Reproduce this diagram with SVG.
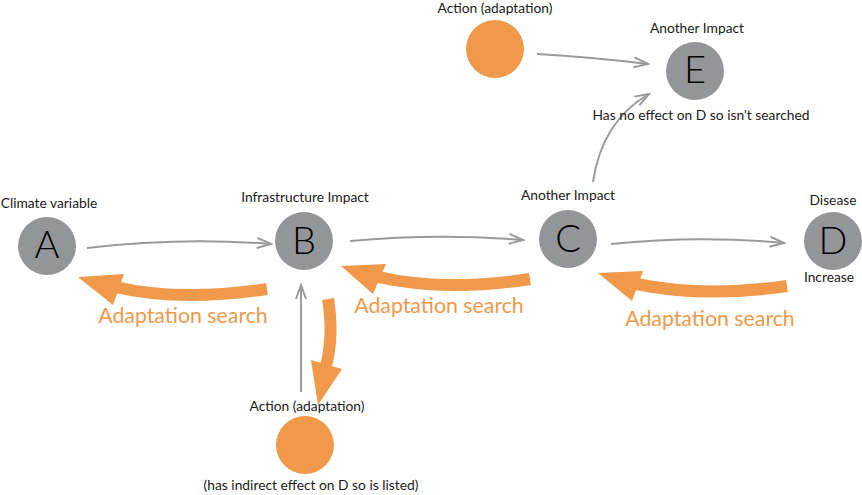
<svg xmlns="http://www.w3.org/2000/svg" width="862" height="495" viewBox="0 0 862 495">
<style>
.bg{fill:#ffffff}
.node{fill:#939598}
.act{fill:#F0994A}
.letter{font-family:Lato,"Liberation Sans",sans-serif;font-size:38px;font-weight:300;fill:#000;text-anchor:middle}
.lbl{font-family:Lato,"Liberation Sans",sans-serif;font-size:13.8px;fill:#1a1a1a;text-anchor:middle}
.srch{font-family:Lato,"Liberation Sans",sans-serif;font-size:21.3px;fill:#F0994A;text-anchor:middle}
.g{fill:none;stroke:#999a9c;stroke-width:2;marker-end:url(#chev)}
.o{fill:none;stroke:#F0994A;stroke-width:12}
.oh{fill:#F0994A}
</style>
<defs>
<marker id="chev" markerUnits="userSpaceOnUse" viewBox="-16 -7 18 14" refX="0" refY="0" markerWidth="18" markerHeight="14" orient="auto">
<path d="M-14,-5 L0,0 L-14,5" fill="none" stroke="#999a9c" stroke-width="2"/>
</marker>
</defs>
<rect class="bg" x="0" y="0" width="862" height="495"/>
<g id="connectors">
<path class="g" d="M87,248 Q180,237 271,244"/>
<path class="g" d="M350,241 Q437,233 523,240"/>
<path class="g" d="M611,244 Q698,235 784,243"/>
<path class="g" d="M537,54 Q590,57 648,64"/>
<path class="g" d="M593,182 Q602,121 649,94"/>
<path class="g" d="M301,392 L301,285"/>
<path class="o" d="M267,289 Q180,302 115,287"/>
<polygon class="oh" points="78,277 124,274 113,305"/>
<path class="o" d="M530,279 Q445,292 378,277"/>
<polygon class="oh" points="341,266 386,264 373,294"/>
<path class="o" d="M787,286 Q705,298 636,284"/>
<polygon class="oh" points="598,273 643,271 632,301"/>
<path class="o" d="M328,299 Q334,335 326,366"/>
<polygon class="oh" points="318,405 311,360 342,369"/>
</g>
<g id="nodeA">
<circle class="node" cx="47" cy="246" r="29"/>
<text class="letter" x="47" y="258">A</text>
<text class="lbl" x="49" y="208">Climate variable</text>
</g>
<g id="nodeB">
<circle class="node" cx="304" cy="241" r="29"/>
<text class="letter" x="304" y="254">B</text>
<text class="lbl" x="305" y="202">Infrastructure Impact</text>
</g>
<g id="nodeC">
<circle class="node" cx="568" cy="239" r="29"/>
<text class="letter" x="568" y="252">C</text>
<text class="lbl" x="568" y="200">Another Impact</text>
</g>
<g id="nodeD">
<circle class="node" cx="833" cy="241" r="29"/>
<text class="letter" x="833" y="254">D</text>
<text class="lbl" x="833" y="205">Disease</text>
<text class="lbl" x="829" y="282">Increase</text>
</g>
<g id="nodeE">
<circle class="node" cx="695" cy="71" r="29"/>
<text class="letter" x="695" y="83">E</text>
<text class="lbl" x="697" y="33">Another Impact</text>
<text class="lbl" x="701" y="120">Has no effect on D so isn't searched</text>
</g>
<g id="actionTop">
<circle class="act" cx="495" cy="49" r="29"/>
<text class="lbl" x="495" y="13">Action (adaptation)</text>
</g>
<g id="actionBottom">
<circle class="act" cx="305" cy="445" r="29"/>
<text class="lbl" x="307" y="411">Action (adaptation)</text>
<text class="lbl" x="311" y="490">(has indirect effect on D so is listed)</text>
</g>
<g id="searchLabels">
<text class="srch" x="183" y="323">Adaptation search</text>
<text class="srch" x="439" y="313">Adaptation search</text>
<text class="srch" x="710" y="326">Adaptation search</text>
</g>
</svg>
